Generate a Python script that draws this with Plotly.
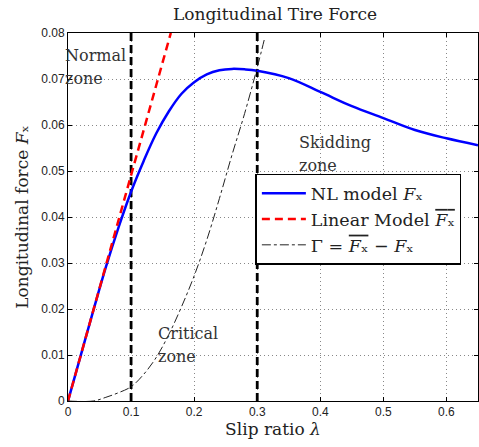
import plotly.graph_objects as go

# Nonlinear tire model F_x
nl_slip = [0, 0.02, 0.04, 0.06, 0.08, 0.10, 0.12, 0.14, 0.16, 0.18, 0.20, 0.22, 0.24,
           0.26, 0.28, 0.30, 0.35, 0.40, 0.45, 0.50, 0.55, 0.60, 0.65]
nl_force = [0, 0.0098, 0.0196, 0.0291, 0.0377, 0.0455, 0.0522, 0.0582, 0.0630, 0.0668,
            0.0693, 0.0710, 0.0719, 0.0722, 0.0721, 0.0718, 0.0702, 0.0672, 0.0641,
            0.0615, 0.0589, 0.0571, 0.0556]

# Linear model (straight line from origin to top of chart)
lin_slip = [0, 0.163]
lin_force = [0, 0.080]

# Gamma = linear - nonlinear
gam_slip = [0, 0.04, 0.06, 0.08, 0.10, 0.12, 0.14, 0.16, 0.18, 0.20, 0.22, 0.24, 0.26,
            0.28, 0.30, 0.312]
gam_force = [0, 0.0, 0.0008, 0.0018, 0.0031, 0.0058, 0.0095, 0.0145, 0.0205, 0.0272,
             0.0350, 0.0440, 0.0535, 0.0625, 0.0725, 0.0790]

# Zone boundaries
zone_bounds = [0.1, 0.3]
y_span = [0, 0.08]

x_ticks = [0, 0.1, 0.2, 0.3, 0.4, 0.5, 0.6]
x_ticklabels = ["0", "0.1", "0.2", "0.3", "0.4", "0.5", "0.6"]
y_ticks = [0, 0.01, 0.02, 0.03, 0.04, 0.05, 0.06, 0.07, 0.08]
y_ticklabels = ["0", "0.01", "0.02", "0.03", "0.04", "0.05", "0.06", "0.07", "0.08"]

SERIF = "DejaVu Serif"
SANS = "Liberation Sans, Arial"
FX = "<i>F</i>ₓ"
FXBAR = '<span style="text-decoration:overline"><i>F</i>ₓ</span>'
FS = 17

fig = go.Figure()

for xb in zone_bounds:
    fig.add_trace(go.Scatter(x=[xb, xb], y=y_span, mode="lines", showlegend=False,
                             line=dict(color="black", width=2.8, dash="8px,4px"),
                             hoverinfo="skip"))

fig.add_trace(go.Scatter(x=nl_slip, y=nl_force, mode="lines", legendgroup="a",
                         name="NL model " + FX,
                         line=dict(color="#0000ff", width=2.5, shape="spline")))
fig.add_trace(go.Scatter(x=lin_slip, y=lin_force, mode="lines", legendgroup="b",
                         name="Linear Model " + FXBAR,
                         line=dict(color="#ff0000", width=2.5, dash="8px,5px")))
fig.add_trace(go.Scatter(x=gam_slip, y=gam_force, mode="lines", legendgroup="c",
                         name="Γ = " + FXBAR + " − " + FX,
                         line=dict(color="#222222", width=1, dash="dashdot", shape="spline")))

ann_font = dict(family=SERIF, size=FS - 1, color="#333333")
for txt, ax_, ay_ in [("Normal", -0.013, 0.0752), ("zone", -0.013, 0.0700)]:
    fig.add_annotation(x=ax_, y=ay_ / 0.08, xref="paper", yref="paper", text=txt,
                       showarrow=False, xanchor="left", yanchor="middle", font=ann_font)
for txt, ax_, ay_ in [("Skidding", 0.363, 0.0561), ("zone", 0.363, 0.0511),
                      ("Critical", 0.140, 0.0146), ("zone", 0.140, 0.0096)]:
    fig.add_annotation(x=ax_, y=ay_, xref="x", yref="y", text=txt, showarrow=False,
                       xanchor="left", yanchor="middle", font=ann_font)

axis_common = dict(showline=True, linecolor="black", linewidth=1, mirror="ticks",
                   ticks="inside", ticklen=4, tickcolor="black", automargin=False,
                   showgrid=True, gridcolor="#888888", griddash="1px,3px", gridwidth=1,
                   zeroline=False, tickfont=dict(family=SANS, size=12, color="#222222"))

fig.update_xaxes(range=[0, 0.65], tickvals=x_ticks, ticktext=x_ticklabels,
                 title=dict(text="Slip ratio <i>λ</i>", font=dict(family=SERIF, size=FS, color="#222"),
                            standoff=4), **axis_common)
fig.update_yaxes(range=[0, 0.08], tickvals=y_ticks, ticktext=y_ticklabels,
                 title=dict(text="Longitudinal force " + FX,
                            font=dict(family=SERIF, size=FS, color="#222"), standoff=8),
                 **axis_common)

fig.update_layout(
    width=479, height=447,
    margin=dict(l=68, r=1, t=33, b=46),
    paper_bgcolor="white", plot_bgcolor="white",
    title=dict(text="Longitudinal Tire Force", x=275 / 479, xanchor="center", y=1 - 14 / 447,
               yanchor="middle", font=dict(family=SERIF, size=FS, color="#222")),
    legend=dict(x=0.457, y=0.617, xanchor="left", yanchor="top", bgcolor="white",
                bordercolor="black", borderwidth=1.5, tracegroupgap=0, itemwidth=44,
                font=dict(family=SERIF, size=FS + 0.5, color="#222")),
    showlegend=True,
)

fig.write_html("out.html", post_script="document.body.style.margin='0';",
               config={"displayModeBar": False})
